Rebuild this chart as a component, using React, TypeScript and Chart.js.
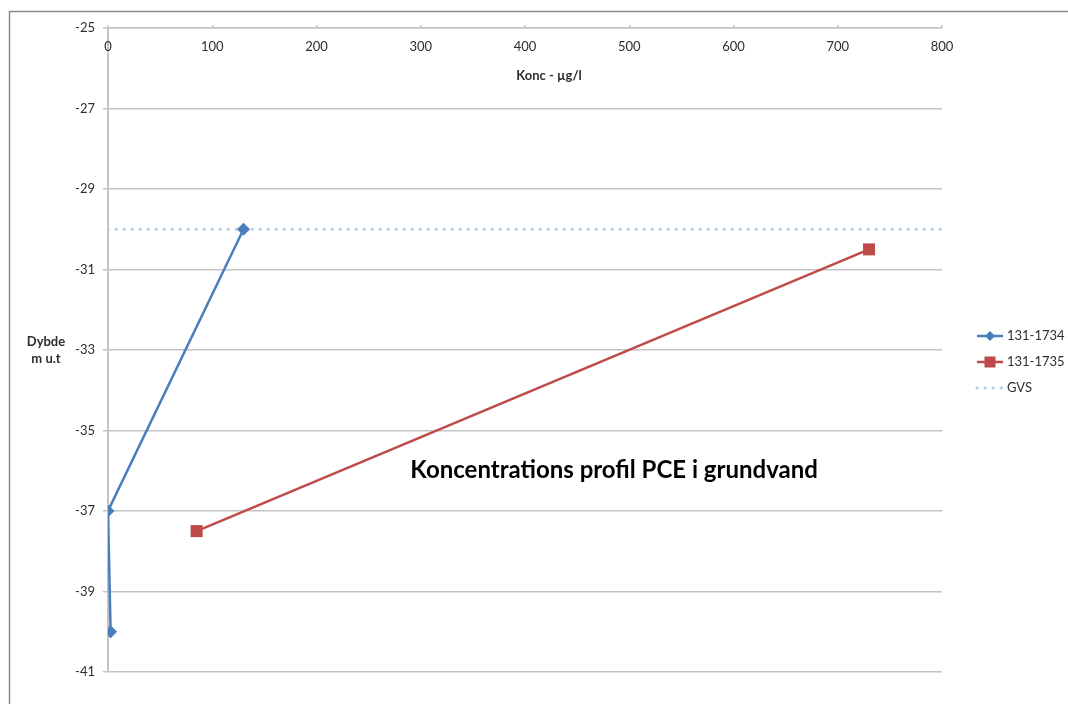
import React, { useEffect, useRef } from "react";
import { Chart, registerables } from "chart.js";

Chart.register(...registerables);

// Concentration profiles (µg/l) against depth (m u.t)
const series1734Name = "131-1734";
const conc1734 = [130, 0, 2.5];
const depth1734 = [-30, -37, -40];

const series1735Name = "131-1735";
const conc1735 = [85, 730];
const depth1735 = [-37.5, -30.5];

const gvsName = "GVS";
const gvsConc = [0, 800];
const gvsDepth = [-30, -30];

const xTickValues = [0, 100, 200, 300, 400, 500, 600, 700, 800];
const yTickValues = [-25, -27, -29, -31, -33, -35, -37, -39, -41];

const xTitle = "Konc - µg/l";
const yTitleLines = ["Dybde", "m u.t"];
const noteText = "Koncentrations profil PCE i grundvand";
const notePos = { x: 290, y: -36 };

const BLUE = "#4A7EBB";
const RED = "#BE4B48";
const GVS_COLOR = "#B9CDE5";
const GRID = "#C4C4C4";
const TEXT = "#2E2E2E";
const FONT = "Lato, 'Open Sans', sans-serif";
const TICK_SIZE = 13;

const toPoints = (xs: number[], ys: number[]) => xs.map((x, i) => ({ x, y: ys[i] }));

const decorations = {
  id: "decorations",
  afterDraw(chart: any) {
    const ctx = chart.ctx as CanvasRenderingContext2D;
    const xs = chart.scales.x;
    const ys = chart.scales.y;
    const area = chart.chartArea;
    ctx.save();

    // outer frame
    ctx.strokeStyle = "#8A8A8A";
    ctx.lineWidth = 1.5;
    ctx.beginPath();
    ctx.moveTo(9.5, 706);
    ctx.lineTo(9.5, 11.5);
    ctx.lineTo(1070, 11.5);
    ctx.stroke();

    // x tick labels, drawn just under the top axis line
    ctx.fillStyle = TEXT;
    ctx.font = `${TICK_SIZE}px ${FONT}`;
    ctx.textAlign = "center";
    ctx.textBaseline = "middle";
    xTickValues.forEach((v) => {
      ctx.fillText(String(v), xs.getPixelForValue(v), area.top + 19);
    });

    // x axis title
    ctx.font = `bold ${TICK_SIZE}px ${FONT}`;
    ctx.fillText(xTitle, 549, area.top + 48);

    // y axis title
    ctx.fillText(yTitleLines[0], 46, 342);
    ctx.fillText(yTitleLines[1], 46, 359);

    // note inside the plot
    ctx.font = `bold 24px ${FONT}`;
    ctx.textAlign = "left";
    ctx.fillStyle = "#000000";
    ctx.fillText(noteText, xs.getPixelForValue(notePos.x), ys.getPixelForValue(notePos.y));

    // legend
    const lx0 = 977;
    const lx1 = 1003;
    const rows = [
      { name: series1734Name, color: BLUE, marker: "diamond", y: 336 },
      { name: series1735Name, color: RED, marker: "square", y: 362 },
      { name: gvsName, color: GVS_COLOR, marker: "dots", y: 388 },
    ];
    rows.forEach((r) => {
      ctx.strokeStyle = r.color;
      ctx.fillStyle = r.color;
      if (r.marker === "dots") {
        ctx.lineWidth = 3;
        ctx.lineCap = "round";
        ctx.setLineDash([0.5, 7.5]);
      } else {
        ctx.lineWidth = 2.5;
        ctx.lineCap = "butt";
        ctx.setLineDash([]);
      }
      ctx.beginPath();
      ctx.moveTo(lx0, r.y);
      ctx.lineTo(lx1, r.y);
      ctx.stroke();
      ctx.setLineDash([]);
      const cx = (lx0 + lx1) / 2;
      if (r.marker === "diamond") {
        ctx.beginPath();
        ctx.moveTo(cx, r.y - 5);
        ctx.lineTo(cx + 5, r.y);
        ctx.lineTo(cx, r.y + 5);
        ctx.lineTo(cx - 5, r.y);
        ctx.closePath();
        ctx.fill();
      } else if (r.marker === "square") {
        ctx.fillRect(cx - 5.5, r.y - 5.5, 11, 11);
      }
      ctx.fillStyle = TEXT;
      ctx.font = `${TICK_SIZE}px ${FONT}`;
      ctx.textAlign = "left";
      ctx.textBaseline = "middle";
      ctx.fillText(r.name, 1007, r.y);
    });

    ctx.restore();
  },
};

export default function App() {
  const canvasRef = useRef<HTMLCanvasElement | null>(null);

  useEffect(() => {
    const canvas = canvasRef.current;
    if (!canvas) return;
    const chart = new Chart(canvas, {
      type: "line",
      data: {
        datasets: [
          {
            label: series1734Name,
            data: toPoints(conc1734, depth1734),
            borderColor: BLUE,
            backgroundColor: BLUE,
            borderWidth: 2.5,
            pointStyle: "rectRot",
            pointRadius: 6.5,
            pointBorderWidth: 0,
            tension: 0,
          },
          {
            label: series1735Name,
            data: toPoints(conc1735, depth1735),
            borderColor: RED,
            backgroundColor: RED,
            borderWidth: 2.5,
            pointStyle: "rect",
            pointRadius: 8.5,
            pointBorderWidth: 0,
            tension: 0,
          },
          {
            label: gvsName,
            data: toPoints(gvsConc, gvsDepth),
            borderColor: GVS_COLOR,
            borderWidth: 3,
            borderDash: [0.5, 7.5],
            borderCapStyle: "round",
            pointRadius: 0,
            tension: 0,
          },
        ],
      },
      options: {
        responsive: false,
        animation: false,
        events: [],
        layout: { padding: { left: 0, right: 126, top: 0, bottom: 32 } },
        plugins: {
          legend: { display: false },
          tooltip: { enabled: false },
        },
        scales: {
          x: {
            type: "linear",
            position: "top",
            min: 0,
            max: 800,
            afterFit: (scale: any) => {
              scale.height = 28;
            },
            afterBuildTicks: (scale: any) => {
              scale.ticks = xTickValues.map((v) => ({ value: v }));
            },
            ticks: { display: false },
            grid: {
              display: true,
              drawOnChartArea: false,
              drawTicks: true,
              tickLength: 3,
              color: GRID,
              lineWidth: 1.5,
            },
            border: { display: true, color: GRID, width: 1.5 },
          },
          y: {
            type: "linear",
            min: -41,
            max: -25,
            afterFit: (scale: any) => {
              scale.width = 108;
            },
            afterBuildTicks: (scale: any) => {
              scale.ticks = yTickValues.map((v) => ({ value: v }));
            },
            ticks: {
              color: TEXT,
              font: { family: FONT, size: TICK_SIZE },
              padding: 8,
            },
            grid: {
              color: GRID,
              lineWidth: 1.5,
              tickLength: 5,
            },
            border: { display: true, color: GRID, width: 2 },
          },
        },
      },
      plugins: [decorations],
    });
    return () => chart.destroy();
  }, []);

  return (
    <div style={{ position: "absolute", left: 0, top: 0, width: 1068, height: 704, background: "#ffffff" }}>
      <canvas ref={canvasRef} width={1068} height={704} style={{ display: "block" }} />
    </div>
  );
}
